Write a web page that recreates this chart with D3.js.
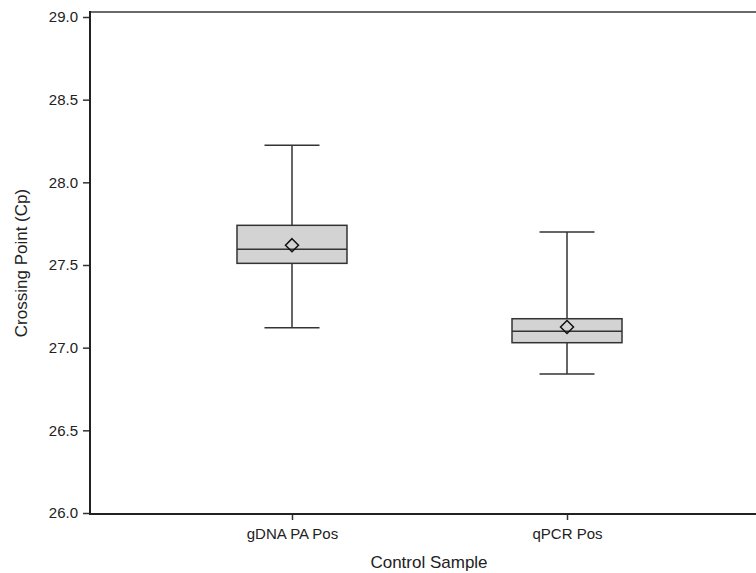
<!DOCTYPE html>
<html><head><meta charset="utf-8">
<script src="https://cdn.jsdelivr.net/npm/d3@7"></script>
<style>body{margin:0;background:#fff}svg{display:block}text{font-family:"Liberation Sans",Arial,sans-serif;fill:#222}</style>
</head><body>
<svg id="c" width="756" height="573"></svg>
<script>
const categories = ["gDNA PA Pos", "qPCR Pos"];
const whiskerLow = [27.12, 26.84];
const q1 = [27.51, 27.03];
const median = [27.595, 27.10];
const q3 = [27.74, 27.175];
const whiskerHigh = [28.225, 27.70];
const mean = [27.62, 27.125];
const yTicks = [26.0, 26.5, 27.0, 27.5, 28.0, 28.5, 29.0];

(function () {
const svg = d3.select("#c");
const left = 90, plotTop = 12, plotBottom = 514, rightEdge = 769;
const y = d3.scaleLinear().domain([26, 29]).range([513, 17]);
const x = d3.scalePoint().domain(categories).range([left, rightEdge]).padding(0.7345);

// frame top
svg.append("line").attr("x1", left).attr("x2", 756).attr("y1", plotTop).attr("y2", plotTop)
  .attr("stroke", "#6a6a6a").attr("stroke-width", 2);

// y axis
const ya = svg.append("g").attr("transform", `translate(${left},0)`)
  .call(d3.axisLeft(y).tickValues(yTicks).tickFormat(d3.format(".1f")).tickSize(7).tickPadding(5));
ya.select(".domain").remove();
ya.selectAll(".tick line").attr("stroke", "#333").attr("stroke-width", 1.5);
ya.selectAll("text").attr("font-size", 15).attr("fill", "#222");
svg.append("line").attr("x1", left).attr("x2", left).attr("y1", plotTop - 1).attr("y2", plotBottom + 1)
  .attr("stroke", "#222").attr("stroke-width", 2);

// x axis
const xa = svg.append("g").attr("transform", `translate(0,${plotBottom})`)
  .call(d3.axisBottom(x).tickSize(6).tickPadding(8));
xa.select(".domain").remove();
xa.selectAll(".tick line").attr("stroke", "#333").attr("stroke-width", 1.5);
xa.selectAll("text").attr("font-size", 15).attr("fill", "#222");
svg.append("line").attr("x1", left - 1).attr("x2", 756).attr("y1", plotBottom).attr("y2", plotBottom)
  .attr("stroke", "#222").attr("stroke-width", 2);

// axis labels
svg.append("text").attr("x", 429).attr("y", 568).attr("text-anchor", "middle")
  .attr("font-size", 17).text("Control Sample");
svg.append("text").attr("transform", "translate(27,263) rotate(-90)").attr("text-anchor", "middle")
  .attr("font-size", 17).text("Crossing Point (Cp)");

// boxes
const boxW = 110, capW = 55;
const stroke = "#333";
categories.forEach((c, i) => {
  const cx = x(c);
  const g = svg.append("g");
  g.append("line").attr("x1", cx).attr("x2", cx).attr("y1", y(whiskerHigh[i])).attr("y2", y(q3[i]))
    .attr("stroke", stroke).attr("stroke-width", 1.5);
  g.append("line").attr("x1", cx).attr("x2", cx).attr("y1", y(q1[i])).attr("y2", y(whiskerLow[i]))
    .attr("stroke", stroke).attr("stroke-width", 1.5);
  [whiskerHigh[i], whiskerLow[i]].forEach(v => {
    g.append("line").attr("x1", cx - capW / 2).attr("x2", cx + capW / 2).attr("y1", y(v)).attr("y2", y(v))
      .attr("stroke", stroke).attr("stroke-width", 1.5);
  });
  g.append("rect").attr("x", cx - boxW / 2).attr("width", boxW)
    .attr("y", y(q3[i])).attr("height", y(q1[i]) - y(q3[i]))
    .attr("fill", "#d3d3d3").attr("stroke", stroke).attr("stroke-width", 1.5);
  g.append("line").attr("x1", cx - boxW / 2).attr("x2", cx + boxW / 2).attr("y1", y(median[i])).attr("y2", y(median[i]))
    .attr("stroke", stroke).attr("stroke-width", 1.5);
  const my = y(mean[i]), r = 6.5;
  g.append("path").attr("d", `M${cx},${my - r}L${cx + r},${my}L${cx},${my + r}L${cx - r},${my}Z`)
    .attr("fill", "none").attr("stroke", "#111").attr("stroke-width", 1.5);
});
})();
</script>
</body></html>
